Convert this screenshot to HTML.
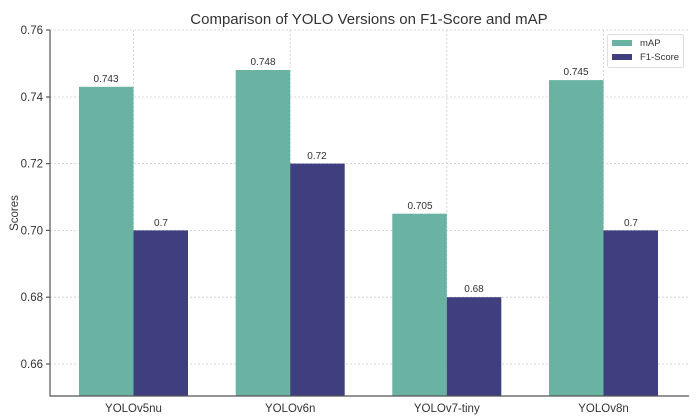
<!DOCTYPE html>
<html><head><style>body{margin:0;background:#fff}svg{display:block;font-family:"Liberation Sans",sans-serif}</style></head><body>
<svg width="697" height="418" xmlns="http://www.w3.org/2000/svg">
<text x="369" y="24" font-size="15" text-anchor="middle" fill="#333">Comparison of YOLO Versions on F1-Score and mAP</text>
<g stroke="#ccc" stroke-width="0.8" stroke-dasharray="2,2">
<line x1="50" x2="689" y1="30" y2="30"/><line x1="50" x2="689" y1="97" y2="97"/><line x1="50" x2="689" y1="163.6" y2="163.6"/><line x1="50" x2="689" y1="230.4" y2="230.4"/><line x1="50" x2="689" y1="297.2" y2="297.2"/><line x1="50" x2="689" y1="364" y2="364"/>
<line x1="133.5" x2="133.5" y1="30" y2="396"/><line x1="290.2" x2="290.2" y1="30" y2="396"/><line x1="446.8" x2="446.8" y1="30" y2="396"/><line x1="603.5" x2="603.5" y1="30" y2="396"/>
</g>
<g fill="#6ab3a3">
<rect x="79" y="86.8" width="54.5" height="309.2"/><rect x="235.7" y="70" width="54.5" height="326"/><rect x="392.3" y="213.7" width="54.5" height="182.3"/><rect x="549" y="80.1" width="54.5" height="315.9"/>
</g>
<g fill="#3f3f7f">
<rect x="133.5" y="230.4" width="54.5" height="165.6"/><rect x="290.2" y="163.6" width="54.5" height="232.4"/><rect x="446.8" y="297.2" width="54.5" height="98.8"/><rect x="603.5" y="230.4" width="54.5" height="165.6"/>
</g>
<g font-size="10" text-anchor="middle" fill="#333">
<text x="106" y="82">0.743</text><text x="161" y="226">0.7</text>
<text x="263" y="65">0.748</text><text x="317" y="159">0.72</text>
<text x="420" y="209">0.705</text><text x="474" y="292">0.68</text>
<text x="576" y="75">0.745</text><text x="631" y="226">0.7</text>
</g>
<g stroke="#555" stroke-width="1.2"><line x1="50" x2="50" y1="30" y2="396.5"/><line x1="50" x2="689" y1="396" y2="396"/>
<line x1="46" x2="50" y1="30" y2="30"/><line x1="46" x2="50" y1="97" y2="97"/><line x1="46" x2="50" y1="163.6" y2="163.6"/><line x1="46" x2="50" y1="230.4" y2="230.4"/><line x1="46" x2="50" y1="297.2" y2="297.2"/><line x1="46" x2="50" y1="364" y2="364"/></g>
<g font-size="11.5" text-anchor="end" fill="#333">
<text x="43" y="34">0.76</text><text x="43" y="101">0.74</text><text x="43" y="167.6">0.72</text><text x="43" y="234.4">0.70</text><text x="43" y="301.2">0.68</text><text x="43" y="368">0.66</text>
</g>
<g font-size="11.5" text-anchor="middle" fill="#333">
<text x="133.5" y="412">YOLOv5nu</text><text x="290.2" y="412">YOLOv6n</text><text x="446.8" y="412">YOLOv7-tiny</text><text x="603.5" y="412">YOLOv8n</text>
</g>
<text transform="translate(18,213) rotate(-90)" font-size="11.5" text-anchor="middle" fill="#333">Scores</text>
<rect x="607.5" y="34.5" width="76" height="33" rx="2" fill="#fff" stroke="#ddd"/>
<rect x="612" y="40" width="20" height="6" fill="#6ab3a3"/><text x="640" y="46" font-size="9.5" fill="#333">mAP</text>
<rect x="612" y="54" width="20" height="6" fill="#3f3f7f"/><text x="640" y="60" font-size="9.5" fill="#333">F1-Score</text>
</svg>
</body></html>
